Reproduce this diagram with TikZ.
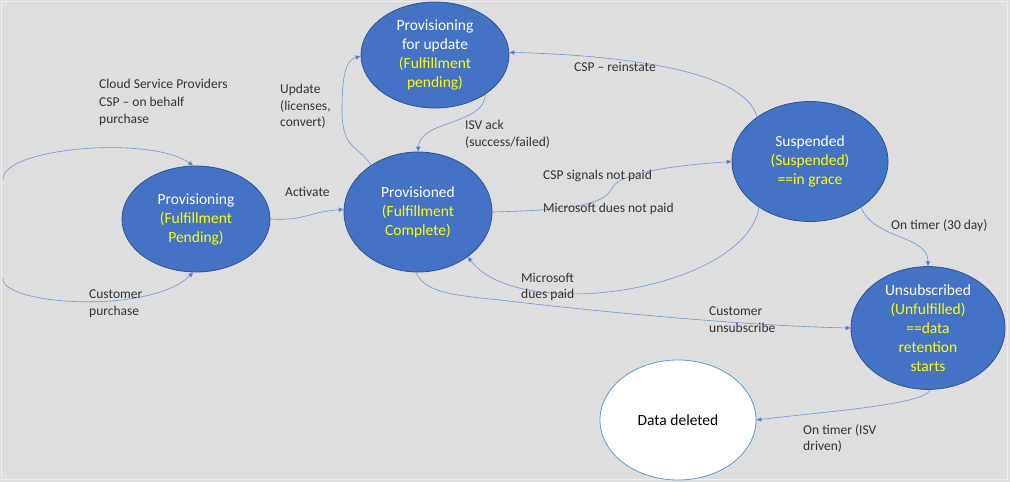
\documentclass[tikz,border=0pt]{standalone}
\usepackage{fontspec}
\setmainfont{Carlito}
\usetikzlibrary{shapes.geometric,arrows.meta}
\definecolor{bgc}{HTML}{DEDEDE}
\definecolor{framec}{HTML}{EEEEEE}
\definecolor{statefill}{HTML}{4472C4}
\definecolor{stateborder}{HTML}{2F528F}
\definecolor{connblue}{HTML}{6F97D6}
\definecolor{tipblue}{HTML}{4472C4}
\definecolor{yel}{HTML}{FFFF00}
\definecolor{lbltext}{HTML}{333333}
\definecolor{ddborder}{HTML}{5B9BD5}
\begin{document}
\begin{tikzpicture}[x=1pt,y=-1pt,
  state/.style={ellipse,draw=stateborder,fill=statefill,line width=0.8pt,inner sep=0pt,
    align=center,font=\fontsize{15.5}{19}\selectfont,text=white},
  lbl/.style={anchor=west,align=left,font=\fontsize{13.5}{16.5}\selectfont,text=lbltext,inner sep=0pt},
  conn/.style={draw=connblue,line width=0.6pt,-{Triangle[width=4.5pt,length=5pt,fill=tipblue]}}
]
\useasboundingbox (0,0) rectangle (1010,482);
\fill[bgc] (0,0) rectangle (1010,482);
\draw[framec,line width=1pt] (1,1) rectangle (1007,479);

% states
\node[state,minimum width=148pt,minimum height=106pt] (pu) at (435,55)
  {Provisioning\\for update\\\textcolor{yel}{(Fulfillment}\\\textcolor{yel}{pending)}};
\node[state,minimum width=148pt,minimum height=106pt] (prov) at (196,219)
  {Provisioning\\\textcolor{yel}{(Fulfillment}\\\textcolor{yel}{Pending)}};
\node[state,minimum width=148pt,minimum height=120pt] (pd) at (418,212)
  {Provisioned\\\textcolor{yel}{(Fulfillment}\\\textcolor{yel}{Complete)}};
\node[state,minimum width=156pt,minimum height=120pt] (su) at (810,161.5)
  {Suspended\\\textcolor{yel}{(Suspended)}\\\textcolor{yel}{==in grace}};
\node[state,minimum width=154pt,minimum height=120pt] (un) at (928,328)
  {Unsubscribed\\\textcolor{yel}{(Unfulfilled)}\\\textcolor{yel}{==data}\\\textcolor{yel}{retention}\\\textcolor{yel}{starts}};
\node[ellipse,draw=ddborder,fill=white,line width=0.8pt,inner sep=0pt,
  minimum width=156pt,minimum height=120pt,font=\fontsize{15.5}{19}\selectfont,text=black]
  (dd) at (678,420) {Data deleted};

% free ends of the self loop (cut by the picture's left edge)
\coordinate (lt) at (3,180);
\coordinate (lb) at (3,278);

% connectors
\draw[conn] (lt) .. controls (0,148) and (150,135) .. (prov.93);
\draw[conn] (lb) .. controls (0,305) and (150,315) .. (prov.267);
\draw[conn] (prov.east) .. controls (305,221) and (308,212) .. (pd.178);
\draw[conn] (pd.135) .. controls (358,145) and (342,150) .. (342,110)
   .. controls (342,75) and (346,60) .. (pu.181);
\draw[conn] (pu.322) .. controls (485,125) and (420,120) .. (pd.90);
\draw[conn] (su.140) .. controls (745,70) and (620,55) .. (pu.2);
\draw[conn] (pd.east) .. controls (570,210) and (605,205) .. (612,188)
   .. controls (620,172) and (680,165) .. (su.west);
\draw[conn] (su.222) .. controls (745,290) and (520,325) .. (pd.318);
\draw[conn] (pd.268) .. controls (425,292) and (450,295) .. (500,300)
   .. controls (600,312) and (750,326) .. (un.west);
\draw[conn] (su.318) .. controls (875,240) and (928,235) .. (un.90);
\draw[conn] (un.272) .. controls (925,405) and (820,412) .. (dd.east);

% labels
\node[lbl] (l1) at (99,84) {Cloud Service Providers};
\node[lbl,anchor=north west] (l2) at (99,97) {CSP – on behalf\\purchase};
\node[lbl,anchor=north west] (l3) at (280,84) {Update\\(licenses,\\convert)};
\node[lbl] (l4) at (285,192) {Activate};
\node[lbl,anchor=north west] (l5) at (465,120) {ISV ack\\(success/failed)};
\node[lbl] (l6) at (574,67) {CSP – reinstate};
\node[lbl] (l7) at (543,176) {CSP signals not paid};
\node[lbl] (l8) at (543,209) {Microsoft dues not paid};
\node[lbl,anchor=north west] (l9) at (521,273) {Microsoft\\dues paid};
\node[lbl,anchor=north west] (l10) at (89,290) {Customer\\purchase};
\node[lbl,anchor=north west] (l11) at (709,307) {Customer\\unsubscribe};
\node[lbl] (l12) at (891,226) {On timer (30 day)};
\node[lbl,anchor=north west] (l13) at (803,424) {On timer (ISV\\driven)};
\end{tikzpicture}
\end{document}
